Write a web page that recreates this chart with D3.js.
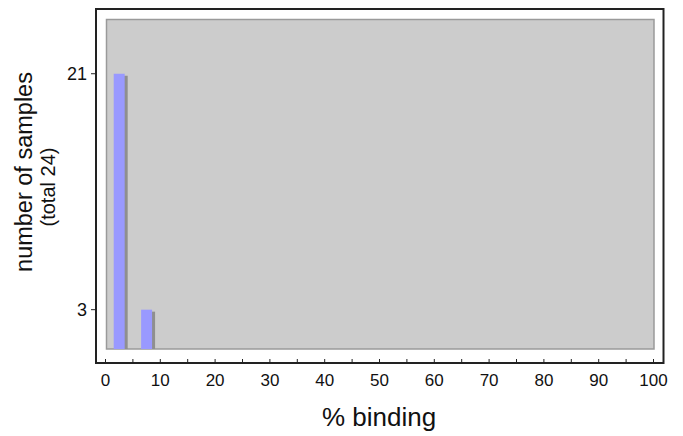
<!DOCTYPE html>
<html><head><meta charset="utf-8">
<script src="https://cdn.jsdelivr.net/npm/d3@7"></script>
<style>body{margin:0;background:#fff}svg{display:block;font-family:"Liberation Sans",Arial,Helvetica,sans-serif}</style>
</head><body><svg id="c" width="683" height="436"></svg>
<script>
const binCenters = [2.5, 7.5];
const counts = [21, 3];
const yTicks = [3, 21];
const xTicks = [0,10,20,30,40,50,60,70,80,90,100];
const xMinor = d3.range(0, 101, 5);
const total = 24;

const svg = d3.select("#c");
const x = d3.scaleLinear().domain([0,100]).range([105.5,653.5]);
const y = d3.scaleLinear().domain([0,25.1]).range([349,20]);

// outer frame
svg.append("rect").attr("x",96).attr("y",9).attr("width",567.5).attr("height",354)
  .attr("fill","#fff").attr("stroke","#222").attr("stroke-width",2);
// plot background
svg.append("rect").attr("x",106.5).attr("y",19.5).attr("width",547.5).attr("height",329.5)
  .attr("fill","#cccccc").attr("stroke","#9a9a9a").attr("stroke-width",1.5);

const bw = x(2) - x(0);
// shadows
svg.selectAll("rect.sh").data(counts).enter().append("rect").attr("class","sh")
  .attr("x",(d,i)=>x(binCenters[i]) - bw/2 + 3)
  .attr("y",d=>y(d)+2)
  .attr("width",bw).attr("height",d=>y(0)-y(d)-2)
  .attr("fill","#8f8f8f");
svg.selectAll("rect.bar").data(counts).enter().append("rect").attr("class","bar")
  .attr("x",(d,i)=>x(binCenters[i]) - bw/2)
  .attr("y",d=>y(d))
  .attr("width",bw).attr("height",d=>y(0)-y(d))
  .attr("fill","#9999ff");

// x axis ticks
const gx = svg.append("g");
gx.selectAll("line").data(xMinor).enter().append("line")
  .attr("x1",d=>x(d)).attr("x2",d=>x(d)).attr("y1",359).attr("y2",363)
  .attr("stroke","#222").attr("stroke-width",1);
gx.selectAll("text").data(xTicks).enter().append("text")
  .attr("x",d=>x(d)).attr("y",386).attr("text-anchor","middle")
  .attr("font-size",17).attr("fill","#111").text(d=>d);

// y axis ticks
const gy = svg.append("g");
gy.selectAll("line").data(yTicks).enter().append("line")
  .attr("x1",91).attr("x2",96).attr("y1",d=>y(d)).attr("y2",d=>y(d))
  .attr("stroke","#222").attr("stroke-width",1);
gy.selectAll("text").data(yTicks).enter().append("text")
  .attr("x",87).attr("y",d=>y(d)).attr("dy","0.36em").attr("text-anchor","end")
  .attr("font-size",18).attr("fill","#111").text(d=>d);

svg.append("text").attr("x",379).attr("y",426).attr("text-anchor","middle")
  .attr("font-size",26).attr("fill","#111").text("% binding");
svg.append("text").attr("transform","translate(32,172) rotate(-90)").attr("text-anchor","middle")
  .attr("font-size",23.5).attr("fill","#111").text("number of samples");
svg.append("text").attr("transform","translate(55,187) rotate(-90)").attr("text-anchor","middle")
  .attr("font-size",20).attr("fill","#111").text(`(total ${total})`);
</script></body></html>
